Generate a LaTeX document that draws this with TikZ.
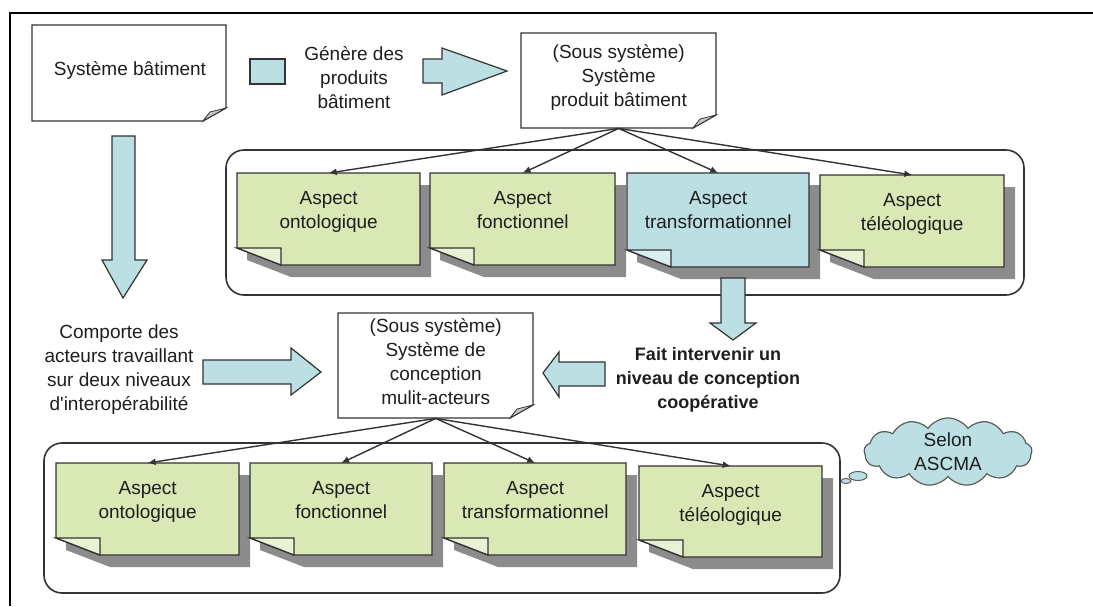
\documentclass[tikz,border=0pt]{standalone}
\usepackage{fontspec}
\setmainfont{Liberation Sans}
\usetikzlibrary{shapes.symbols,arrows.meta}
\definecolor{ngreen}{HTML}{D9E8B5}
\definecolor{nblue}{HTML}{BBDFE3}
\definecolor{nline}{HTML}{333333}
\definecolor{nshadow}{HTML}{8C8C8C}
\definecolor{ntext}{HTML}{1E1E1E}
\tikzset{
  txt/.style={font=\fontsize{19}{24}\selectfont, align=center, inner sep=0pt, text=ntext},
  boldtxt/.style={font=\bfseries\fontsize{18}{24}\selectfont, align=center, inner sep=0pt, text=ntext},
  conn/.style={draw=nline, line width=1.4pt, -{Latex[length=8pt,width=7pt]}},
  container/.style={draw=nline, line width=1.6pt, rounded corners=18pt},
  barrow/.style={fill=nblue, draw=nline, line width=1.2pt, line join=miter},
  noteline/.style={draw=nline, line width=1.3pt, line join=miter},
  boxnode/.style={inner sep=0pt, anchor=north west},
}
\newcommand\aspnote[7]{%
  \fill[nshadow] (#2+10,#3+12) -- (#4+11,#3+12) -- (#4+11,#5+12) -- (#2+54,#5+12) -- (#2+10,#5-5) -- cycle;
  \node[boxnode, minimum width={(#4-#2)*1pt}, minimum height={(#5-#3)*1pt}] (#1) at (#2,#3) {};
  \filldraw[noteline, fill=#6] (#2,#3) -- (#4,#3) -- (#4,#5) -- (#2+44,#5) -- (#2,#5-17) -- cycle;
  \filldraw[noteline, fill=#6!55!white] (#2,#5-17) -- (#2+44,#5-17) -- (#2+44,#5) -- cycle;
  \node[txt, anchor=north] at ([yshift=-18pt]#1.north) {#7};
}
\newcommand\whitenote[5]{%
  \node[boxnode, minimum width={(#4-#2)*1pt}, minimum height={(#5-#3)*1pt}] (#1) at (#2,#3) {};
  \filldraw[noteline, fill=white] (#2,#3) -- (#4,#3) -- (#4,#5-13) -- (#4-23,#5) -- (#2,#5) -- cycle;
  \filldraw[noteline, fill=gray!45, line width=0.8pt] (#4-23,#5) -- (#4,#5-13) -- (#4-16,#5-9) -- cycle;
}
\begin{document}
\begin{tikzpicture}[x=1pt,y=-1pt]
\useasboundingbox (0,0) rectangle (1093,606);
% frame
\draw[line width=2pt, black] (10,606) -- (10,12.7) -- (1093,12.7);

% containers
\draw[container] (226,150) rectangle (1024,295);
\draw[container] (44,443) rectangle (840,593);

% white notes
\whitenote{sb}{32}{25}{226}{121}
\node[txt] (sbt) at (130,70) {Système bâtiment};
\whitenote{spb}{521}{33}{716}{128}
\node[txt, anchor=north] (spbt) at ([yshift=-11pt]spb.north) {(Sous système)\\Système\\produit bâtiment};
\whitenote{scm}{338}{313}{533}{418}
\node[txt, anchor=north] (scmt) at ([yshift=-5pt]scm.north) {(Sous système)\\Système de\\conception\\mulit-acteurs};

% top row aspects
\aspnote{a1}{237}{173}{420}{265}{ngreen}{Aspect\\ontologique}
\aspnote{a2}{430}{173}{615}{265}{ngreen}{Aspect\\fonctionnel}
\aspnote{a3}{627}{173}{809}{267}{nblue}{Aspect\\transformationnel}
\aspnote{a4}{820}{175}{1004}{267}{ngreen}{Aspect\\téléologique}

% bottom row aspects
\aspnote{b1}{56}{463}{239}{555}{ngreen}{Aspect\\ontologique}
\aspnote{b2}{250}{463}{432}{555}{ngreen}{Aspect\\fonctionnel}
\aspnote{b3}{444}{463}{626}{555}{ngreen}{Aspect\\transformationnel}
\aspnote{b4}{639}{466}{822}{557}{ngreen}{Aspect\\téléologique}

% connectors
\foreach \t in {a1,a2,a3,a4} \draw[conn] (spb.south) -- (\t.north);
\foreach \t in {b1,b2,b3,b4} \draw[conn] (scm.south) -- (\t.north);

% block arrows
\filldraw[barrow] (250,59) rectangle (285,84);
\filldraw[barrow] (423,59) -- (442,59) -- (442,48) -- (507,71) -- (442,95) -- (442,83) -- (423,83) -- cycle;
\filldraw[barrow] (112,136) -- (135,136) -- (135,260) -- (147,260) -- (123,298) -- (102,260) -- (112,260) -- cycle;
\filldraw[barrow] (203,360) -- (291,360) -- (291,348) -- (321,372) -- (291,395) -- (291,384) -- (203,384) -- cycle;
\filldraw[barrow] (721,278) -- (745,278) -- (745,323) -- (756,323) -- (733,340) -- (710,323) -- (721,323) -- cycle;
\filldraw[barrow] (605,362) -- (559,362) -- (559,352) -- (543,373) -- (559,397) -- (559,386) -- (605,386) -- cycle;

% texts
\node[txt] (gen) at (354,78) {Génère des\\produits\\bâtiment};
\node[txt] (comp) at (119,370) {Comporte des\\acteurs travaillant\\sur deux niveaux\\d\textquotesingle interopérabilité};
\node[boldtxt] (fait) at (708,380) {Fait intervenir un\\niveau de conception\\coopérative};

% cloud
\filldraw[fill=nblue, draw=nline!80, line width=1pt] (846,481) ellipse (5pt and 2.5pt);
\filldraw[fill=nblue, draw=nline!80, line width=1pt] (858,476) ellipse (9pt and 4.5pt);
\node[cloud, cloud puffs=13, cloud puff arc=110, aspect=2.4, fill=nblue, draw=nline!80, line width=1.2pt,
      minimum width=168pt, minimum height=68pt, inner sep=0pt, txt] (cl) at (948,452) {Selon\\ASCMA};
\end{tikzpicture}
\end{document}
